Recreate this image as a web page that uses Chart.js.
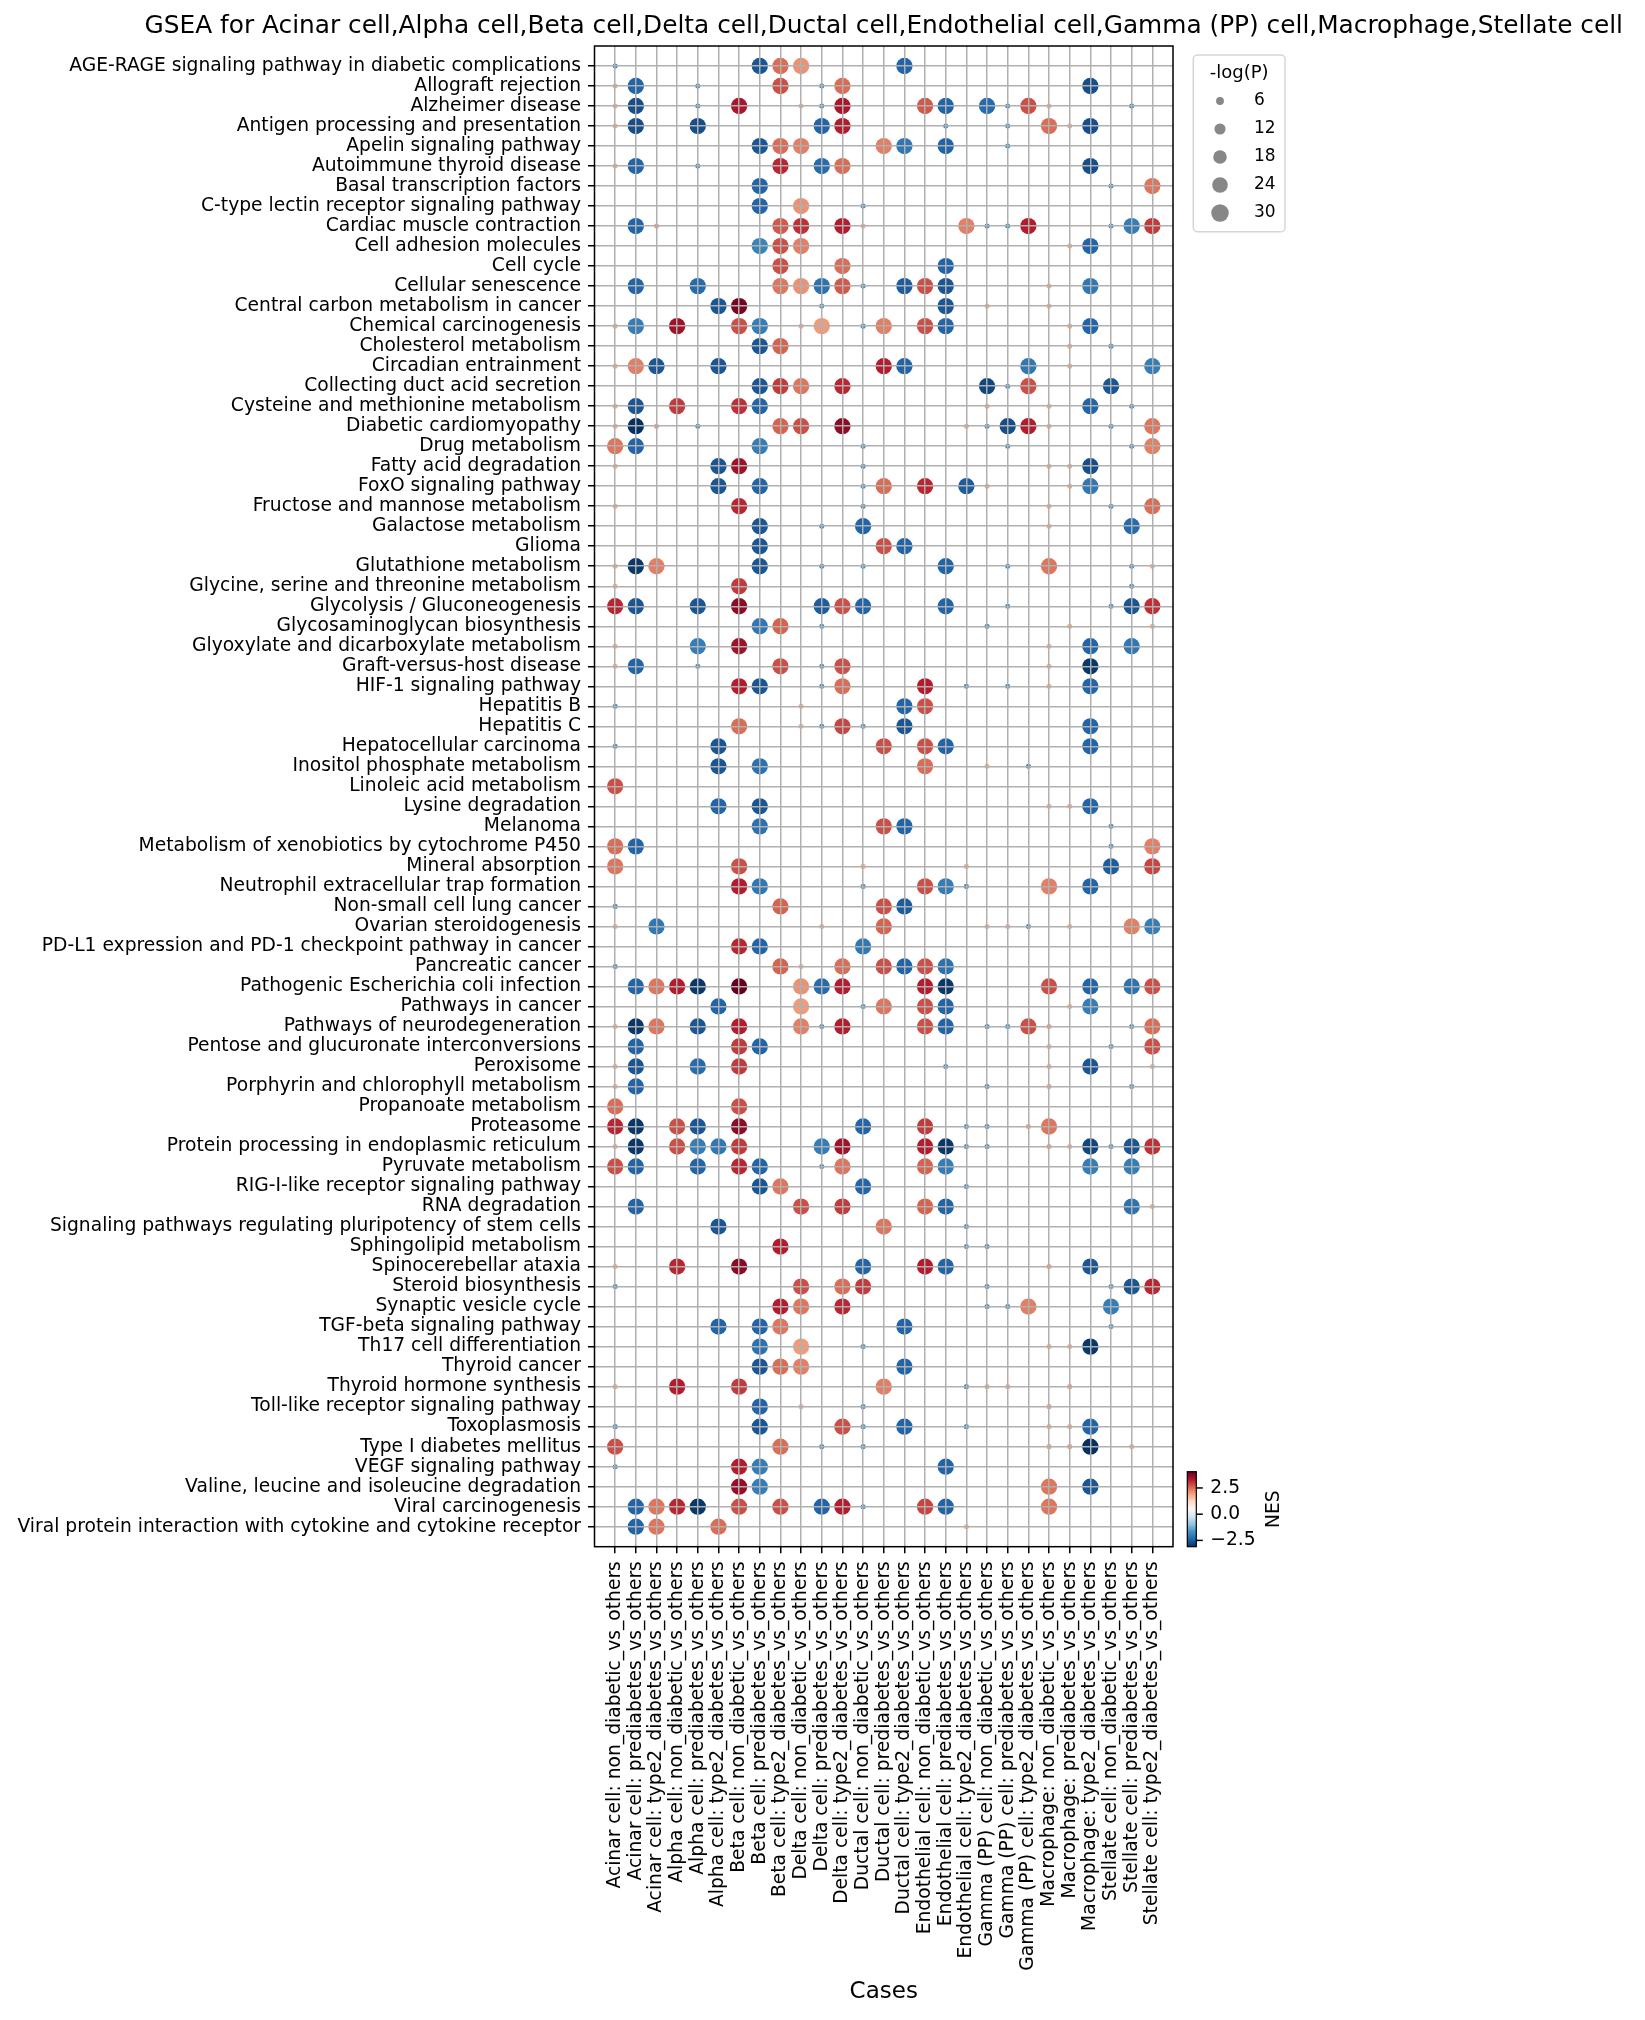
<!DOCTYPE html>
<html>
<head>
<meta charset="utf-8">
<script src="https://cdn.jsdelivr.net/npm/chart.js@4.4.0/dist/chart.umd.min.js"></script>
<style>
  html, body { margin: 0; padding: 0; background: #fff; }
  #wrap { width: 1645px; height: 2020px; position: relative; }
</style>
</head>
<body>
<div id="wrap"><canvas id="gsea"></canvas></div>
<script>
const _ = null;

// x categories
const cases = [
  'Acinar cell: non_diabetic_vs_others', 'Acinar cell: prediabetes_vs_others', 'Acinar cell: type2_diabetes_vs_others',
  'Alpha cell: non_diabetic_vs_others', 'Alpha cell: prediabetes_vs_others', 'Alpha cell: type2_diabetes_vs_others',
  'Beta cell: non_diabetic_vs_others', 'Beta cell: prediabetes_vs_others', 'Beta cell: type2_diabetes_vs_others',
  'Delta cell: non_diabetic_vs_others', 'Delta cell: prediabetes_vs_others', 'Delta cell: type2_diabetes_vs_others',
  'Ductal cell: non_diabetic_vs_others', 'Ductal cell: prediabetes_vs_others', 'Ductal cell: type2_diabetes_vs_others',
  'Endothelial cell: non_diabetic_vs_others', 'Endothelial cell: prediabetes_vs_others', 'Endothelial cell: type2_diabetes_vs_others',
  'Gamma (PP) cell: non_diabetic_vs_others', 'Gamma (PP) cell: prediabetes_vs_others', 'Gamma (PP) cell: type2_diabetes_vs_others',
  'Macrophage: non_diabetic_vs_others', 'Macrophage: prediabetes_vs_others', 'Macrophage: type2_diabetes_vs_others',
  'Stellate cell: non_diabetic_vs_others', 'Stellate cell: prediabetes_vs_others', 'Stellate cell: type2_diabetes_vs_others'
];

// y categories (top to bottom)
const pathways = [
  'AGE-RAGE signaling pathway in diabetic complications', 'Allograft rejection', 'Alzheimer disease',
  'Antigen processing and presentation', 'Apelin signaling pathway', 'Autoimmune thyroid disease',
  'Basal transcription factors', 'C-type lectin receptor signaling pathway', 'Cardiac muscle contraction',
  'Cell adhesion molecules', 'Cell cycle', 'Cellular senescence', 'Central carbon metabolism in cancer',
  'Chemical carcinogenesis', 'Cholesterol metabolism', 'Circadian entrainment', 'Collecting duct acid secretion',
  'Cysteine and methionine metabolism', 'Diabetic cardiomyopathy', 'Drug metabolism', 'Fatty acid degradation',
  'FoxO signaling pathway', 'Fructose and mannose metabolism', 'Galactose metabolism', 'Glioma',
  'Glutathione metabolism', 'Glycine, serine and threonine metabolism', 'Glycolysis / Gluconeogenesis',
  'Glycosaminoglycan biosynthesis', 'Glyoxylate and dicarboxylate metabolism', 'Graft-versus-host disease',
  'HIF-1 signaling pathway', 'Hepatitis B', 'Hepatitis C', 'Hepatocellular carcinoma',
  'Inositol phosphate metabolism', 'Linoleic acid metabolism', 'Lysine degradation', 'Melanoma',
  'Metabolism of xenobiotics by cytochrome P450', 'Mineral absorption', 'Neutrophil extracellular trap formation',
  'Non-small cell lung cancer', 'Ovarian steroidogenesis', 'PD-L1 expression and PD-1 checkpoint pathway in cancer',
  'Pancreatic cancer', 'Pathogenic Escherichia coli infection', 'Pathways in cancer', 'Pathways of neurodegeneration',
  'Pentose and glucuronate interconversions', 'Peroxisome', 'Porphyrin and chlorophyll metabolism',
  'Propanoate metabolism', 'Proteasome', 'Protein processing in endoplasmic reticulum', 'Pyruvate metabolism',
  'RIG-I-like receptor signaling pathway', 'RNA degradation', 'Signaling pathways regulating pluripotency of stem cells',
  'Sphingolipid metabolism', 'Spinocerebellar ataxia', 'Steroid biosynthesis', 'Synaptic vesicle cycle',
  'TGF-beta signaling pathway', 'Th17 cell differentiation', 'Thyroid cancer', 'Thyroid hormone synthesis',
  'Toll-like receptor signaling pathway', 'Toxoplasmosis', 'Type I diabetes mellitus', 'VEGF signaling pathway',
  'Valine, leucine and isoleucine degradation', 'Viral carcinogenesis',
  'Viral protein interaction with cytokine and cytokine receptor'
];

// NES, one row per pathway, one column per case (null = not significant)
const nes = [
  [-1.8,_,_,_,_,_,_,-2.6,2.5,  2.1,_,_,_,_,-2.4,_,_,_,  _,_,_,_,_,_,_,_,_],
  [1.8,-2.4,_,_,-1.8,_,_,_,2.8,  _,-1.8,2.5,_,_,_,_,_,_,  _,_,_,_,_,-2.7,_,_,_],
  [1.8,-2.7,_,_,-1.8,_,3.4,_,_,  1.8,-1.8,3.4,_,_,_,2.7,-2.4,_,  -2.3,-1.8,2.8,1.8,_,_,_,-1.8,_],
  [1.8,-2.7,_,_,-2.7,_,_,_,_,  _,-2.4,3.3,_,_,_,_,-1.8,_,  _,-1.8,_,2.5,1.8,-2.7,_,_,_],
  [_,_,_,_,_,_,_,-2.6,2.5,  2.3,_,_,_,2.3,-2.1,_,-2.4,_,  _,-1.8,_,_,_,_,_,_,_],
  [1.8,-2.4,_,_,-1.8,_,_,_,3.2,  _,-2.3,2.5,_,_,_,_,_,_,  _,_,_,_,_,-2.7,_,_,_],
  [_,_,_,_,_,_,_,-2.4,_,  _,_,_,_,_,_,_,_,_,  _,_,_,_,_,_,-1.8,_,2.4],
  [_,_,_,_,_,_,_,-2.4,_,  2.1,_,_,-1.8,_,_,_,_,_,  _,_,_,_,_,_,_,_,_],
  [_,-2.4,2.0,_,_,_,_,_,2.7,  3.1,_,3.3,1.8,_,_,_,_,2.3,  -1.8,-1.8,3.3,_,_,_,-1.8,-2.0,3.0],
  [_,_,_,_,_,_,_,-1.9,2.8,  2.3,_,_,_,_,_,_,_,_,  _,_,_,_,1.8,-2.4,_,_,_],
  [_,_,_,_,_,_,_,_,2.8,  _,_,2.5,_,_,_,_,-2.4,_,  _,_,_,_,_,_,_,_,_],
  [_,-2.4,_,_,-2.3,_,_,_,2.4,  2.1,-2.2,2.7,-1.8,_,-2.5,2.8,-2.6,_,  _,_,_,1.8,_,-2.1,_,_,_],
  [_,_,_,_,_,-2.6,3.9,_,_,  _,-1.8,_,_,_,_,_,-2.6,_,  1.8,_,_,1.8,_,_,_,_,_],
  [1.8,-2.0,_,3.5,_,_,2.8,-2.0,_,  1.8,2.0,_,-1.8,2.3,_,2.8,-2.4,_,  _,_,_,_,1.8,-2.4,_,_,_],
  [_,_,_,_,_,_,_,-2.6,2.6,  _,_,_,_,_,_,_,_,_,  _,_,_,_,1.8,_,-1.8,_,_],
  [1.8,2.3,-2.6,_,_,-2.6,_,_,_,  _,_,_,_,3.3,-2.4,_,_,_,  _,_,-2.1,_,1.8,_,_,_,-2.0],
  [_,_,_,_,_,_,_,-2.6,3.0,  2.4,_,3.2,_,_,_,_,_,_,  -2.8,-1.8,2.8,_,_,_,-2.6,_,_],
  [1.8,-2.6,_,3.0,_,_,3.1,-2.4,_,  _,_,_,_,_,_,_,_,_,  1.8,_,_,1.8,_,-2.4,_,-1.8,_],
  [1.8,-3.1,2.0,_,-1.8,_,_,_,2.6,  2.8,_,3.7,_,_,_,_,_,1.8,  -1.8,-2.7,3.3,1.8,_,_,-1.8,_,2.4],
  [2.4,-2.4,_,_,_,_,_,-2.0,_,  _,_,_,-1.8,_,_,_,_,_,  _,-1.8,_,_,_,_,_,-1.8,2.3],
  [1.8,_,_,_,_,-2.6,3.5,_,_,  _,_,_,-1.8,_,_,_,_,_,  _,_,_,1.8,1.8,-2.7,_,_,_],
  [_,_,_,_,_,-2.6,_,-2.4,_,  _,_,_,-1.8,2.5,_,3.2,_,-2.5,  1.8,_,_,_,1.8,-2.1,_,_,_],
  [1.8,_,_,_,_,_,3.2,_,_,  _,_,_,-1.8,_,_,_,_,_,  _,_,_,1.8,_,_,-1.8,_,2.5],
  [_,_,_,_,_,_,_,-2.6,_,  _,-1.8,_,-2.4,_,_,_,_,_,  _,_,_,1.8,_,_,_,-2.3,_],
  [_,_,_,_,_,_,_,-2.6,_,  _,_,_,_,2.8,-2.4,_,_,_,  _,_,_,_,_,_,_,_,_],
  [1.8,-3.0,2.3,_,_,_,_,-2.6,_,  _,-1.8,_,-1.8,_,_,_,-2.4,_,  _,-1.8,_,2.4,_,_,_,-1.8,1.8],
  [1.8,_,_,_,_,_,3.0,_,_,  _,_,_,_,_,_,_,_,_,  _,_,_,_,_,_,_,-1.8,_],
  [3.2,-2.6,_,_,-2.6,_,3.7,_,_,  _,-2.5,2.8,-2.4,_,_,_,-2.4,_,  _,-1.8,_,_,_,_,-1.8,-2.6,3.1],
  [_,_,_,_,_,_,_,-2.1,2.6,  _,-1.8,_,_,_,_,_,_,_,  -1.8,_,_,_,1.8,_,_,_,1.8],
  [1.8,_,_,_,-2.0,_,3.5,_,_,  _,_,_,_,_,_,_,_,_,  _,_,_,1.8,_,-2.4,_,-2.1,_],
  [1.8,-2.4,_,_,-1.8,_,_,_,2.8,  _,-1.8,2.8,_,_,_,_,_,_,  _,_,_,1.8,_,-3.0,_,_,_],
  [_,_,_,_,_,_,3.3,-2.6,_,  _,-1.8,2.5,_,_,_,3.3,_,-1.8,  _,-1.8,_,1.8,_,-2.4,_,_,_],
  [-1.8,_,_,_,_,_,_,_,_,  1.8,_,_,_,_,-2.4,2.8,_,_,  _,_,_,_,_,_,_,_,_],
  [_,_,_,_,_,_,2.5,_,_,  1.8,-1.8,2.9,-1.8,_,-2.6,_,_,_,  _,_,_,_,_,-2.4,_,_,_],
  [-1.8,_,_,_,_,-2.6,_,_,_,  _,_,_,_,2.8,_,2.8,-2.4,_,  _,_,_,_,_,-2.4,_,_,_],
  [_,_,_,_,_,-2.6,_,-2.2,_,  _,_,_,_,_,_,2.5,_,_,  1.8,_,-1.8,_,_,_,_,_,_],
  [2.8,_,_,_,_,_,_,_,_,  _,_,_,_,_,_,_,_,_,  _,_,_,_,_,_,_,_,_],
  [_,_,_,_,_,-2.4,_,-2.6,_,  _,_,_,_,_,_,_,_,_,  _,_,_,1.8,1.8,-2.4,_,_,_],
  [_,_,_,_,_,_,_,-2.2,_,  _,_,_,_,2.8,-2.4,_,_,_,  _,_,_,_,_,_,-1.8,_,_],
  [2.5,-2.4,_,_,_,_,_,_,_,  _,_,_,_,_,_,_,_,_,  _,_,_,_,_,_,-1.8,_,2.3],
  [2.4,_,_,_,_,_,2.8,_,_,  _,_,_,1.8,_,_,_,_,1.8,  _,_,_,_,_,_,-2.5,_,2.9],
  [_,_,_,_,_,_,3.3,-2.1,_,  _,_,_,-1.8,_,_,2.8,-2.0,-1.8,  _,_,_,2.3,_,-2.4,_,_,_],
  [-1.8,_,_,_,_,_,_,_,2.6,  _,_,_,_,2.8,-2.5,_,_,_,  _,_,_,_,_,_,_,_,_],
  [1.8,_,-2.1,_,_,_,_,_,_,  _,1.8,_,_,2.6,_,_,_,_,  1.8,1.8,-1.8,_,1.8,_,_,2.3,-2.0],
  [_,_,_,_,_,_,3.2,-2.4,_,  _,_,_,-2.1,_,_,_,_,_,  _,_,_,_,_,_,_,_,_],
  [-1.8,_,_,_,_,_,_,_,2.6,  1.8,_,2.5,_,2.8,-2.4,2.8,-2.2,_,  _,_,_,_,_,_,_,_,_],
  [_,-2.4,2.4,3.3,-3.0,_,4.05,_,_,  2.1,-2.3,3.3,_,_,_,3.3,-3.0,_,  _,_,_,2.8,_,-2.4,_,-2.2,2.8],
  [_,_,_,_,_,-2.4,_,_,_,  2.0,_,_,-1.8,2.4,_,2.8,-2.4,_,  _,_,_,_,1.8,-2.0,_,_,_],
  [1.8,-3.0,2.4,_,-2.6,_,3.3,_,_,  2.3,-1.8,3.3,_,_,_,2.8,-2.4,_,  -1.8,-1.8,2.8,2.0,_,_,_,-1.8,2.5],
  [_,-2.4,_,_,_,_,3.0,-2.4,_,  _,_,_,_,_,_,_,_,_,  _,_,_,1.8,_,_,-1.8,_,2.8],
  [1.8,-2.6,_,_,-2.3,_,3.0,_,_,  _,_,_,_,_,_,_,-1.8,_,  _,_,_,1.8,_,-2.6,_,_,1.8],
  [1.8,-2.4,_,_,_,_,_,_,_,  _,_,_,_,_,_,_,_,_,  -1.8,_,_,2.0,_,_,_,-1.8,_],
  [2.5,_,_,_,_,_,2.8,_,_,  _,_,_,_,_,_,_,_,_,  _,_,_,_,_,_,_,_,_],
  [3.2,-3.0,_,2.8,-2.6,_,3.7,_,_,  _,_,_,-2.4,_,_,3.0,_,-1.8,  -1.8,_,2.0,2.4,_,_,_,_,_],
  [1.8,-3.0,_,2.8,-2.0,-2.1,3.0,_,_,  _,-2.0,3.5,_,_,_,3.3,-3.0,-1.8,  -1.8,_,_,2.0,1.8,-2.8,-1.8,-2.6,3.1],
  [2.8,-2.4,_,_,-2.4,_,3.2,-2.4,_,  _,-1.8,2.4,_,_,_,2.6,-2.0,_,  _,_,_,_,_,-2.0,_,-2.0,_],
  [_,_,_,_,_,_,_,-2.6,2.4,  _,_,_,-2.4,_,_,_,_,-1.8,  _,_,_,_,_,_,_,_,_],
  [_,-2.4,_,_,_,_,_,_,_,  2.8,_,3.0,_,_,_,2.6,-2.4,_,  _,_,_,_,_,_,_,-2.2,1.8],
  [_,_,_,_,_,-2.6,_,_,_,  _,_,_,_,2.4,_,_,_,-1.8,  _,_,_,_,_,_,_,_,_],
  [_,_,_,_,_,_,_,_,3.3,  _,_,_,_,_,_,_,_,-1.8,  -1.8,_,_,_,_,_,_,_,_],
  [1.8,_,_,3.2,_,_,3.7,_,_,  _,_,_,-2.4,_,_,3.3,-2.4,_,  _,_,_,2.0,_,-2.6,_,_,_],
  [-1.8,_,_,_,_,_,_,_,_,  2.8,_,2.5,3.0,_,_,_,_,_,  -1.8,_,_,_,_,_,-1.8,-2.6,3.2],
  [_,_,_,_,_,_,_,_,3.3,  2.4,_,3.2,_,_,_,_,_,_,  -1.8,-1.8,2.3,_,_,_,-2.0,_,_],
  [_,_,_,_,_,-2.4,_,-2.4,2.4,  _,_,_,_,_,-2.4,_,_,_,  _,_,_,_,_,_,-1.8,_,_],
  [_,_,_,_,_,_,_,-2.2,_,  2.0,_,_,-1.8,_,_,_,_,_,  _,_,_,1.8,1.8,-3.0,_,_,_],
  [_,_,_,_,_,_,_,-2.6,2.5,  2.3,_,_,_,_,-2.4,_,_,_,  _,_,_,_,_,_,_,_,_],
  [1.8,_,_,3.3,_,_,3.0,_,_,  _,_,_,_,2.3,_,_,_,-1.8,  1.8,1.8,_,_,2.0,_,_,_,_],
  [_,_,_,_,_,_,_,-2.4,_,  1.8,_,_,-1.8,_,_,_,_,_,  _,_,_,2.0,_,_,_,_,_],
  [-1.8,_,_,_,_,_,_,-2.6,_,  _,_,2.8,-1.8,_,-2.4,_,_,-1.8,  _,_,_,1.8,1.8,-2.4,_,_,_],
  [2.8,_,_,_,_,_,_,_,2.5,  _,-1.8,_,-1.8,_,_,_,_,_,  _,_,_,2.0,2.0,-3.1,_,1.8,_],
  [-1.8,_,_,_,_,_,3.3,-2.0,_,  _,_,_,_,_,_,_,-2.4,_,  _,_,_,_,_,_,_,_,_],
  [_,_,_,_,_,_,3.6,-2.0,_,  _,_,_,_,_,_,_,_,_,  _,_,_,2.4,_,-2.6,_,_,_],
  [_,-2.4,2.4,3.2,-3.0,_,2.8,_,2.8,  _,-2.4,3.3,-1.8,_,_,2.9,-2.4,_,  _,_,_,2.4,_,_,_,_,_],
  [_,-2.4,2.4,_,_,2.5,_,_,_,  _,_,_,_,_,_,_,_,1.8,  _,_,_,_,_,_,_,_,_]
];

// -log(P), same layout as nes
const negLogP = [
  [2.5,_,_,_,_,_,_,26,26,  26,_,_,_,_,26,_,_,_,  _,_,_,_,_,_,_,_,_],
  [2.5,26,_,_,2.5,_,_,_,26,  _,2.5,26,_,_,_,_,_,_,  _,_,_,_,_,26,_,_,_],
  [2.5,26,_,_,2.5,_,26,_,_,  2.5,2.5,26,_,_,_,26,26,_,  26,2.5,26,2.5,_,_,_,2.5,_],
  [2.5,26,_,_,26,_,_,_,_,  _,26,26,_,_,_,_,2.5,_,  _,2.5,_,26,2.5,26,_,_,_],
  [_,_,_,_,_,_,_,26,26,  26,_,_,_,26,26,_,26,_,  _,2.5,_,_,_,_,_,_,_],
  [2.5,26,_,_,2.5,_,_,_,26,  _,26,26,_,_,_,_,_,_,  _,_,_,_,_,26,_,_,_],
  [_,_,_,_,_,_,_,26,_,  _,_,_,_,_,_,_,_,_,  _,_,_,_,_,_,2.5,_,26],
  [_,_,_,_,_,_,_,26,_,  26,_,_,2.5,_,_,_,_,_,  _,_,_,_,_,_,_,_,_],
  [_,26,2.5,_,_,_,_,_,26,  26,_,26,2.5,_,_,_,_,26,  2.5,2.5,26,_,_,_,2.5,26,26],
  [_,_,_,_,_,_,_,26,26,  26,_,_,_,_,_,_,_,_,  _,_,_,_,2.5,26,_,_,_],
  [_,_,_,_,_,_,_,_,26,  _,_,26,_,_,_,_,26,_,  _,_,_,_,_,_,_,_,_],
  [_,26,_,_,26,_,_,_,26,  26,26,26,2.5,_,26,26,26,_,  _,_,_,2.5,_,26,_,_,_],
  [_,_,_,_,_,26,26,_,_,  _,2.5,_,_,_,_,_,26,_,  2.5,_,_,2.5,_,_,_,_,_],
  [2.5,26,_,26,_,_,26,26,_,  2.5,26,_,2.5,26,_,26,26,_,  _,_,_,_,2.5,26,_,_,_],
  [_,_,_,_,_,_,_,26,26,  _,_,_,_,_,_,_,_,_,  _,_,_,_,2.5,_,2.5,_,_],
  [2.5,26,26,_,_,26,_,_,_,  _,_,_,_,26,26,_,_,_,  _,_,26,_,2.5,_,_,_,26],
  [_,_,_,_,_,_,_,26,26,  26,_,26,_,_,_,_,_,_,  26,2.5,26,_,_,_,26,_,_],
  [2.5,26,_,26,_,_,26,26,_,  _,_,_,_,_,_,_,_,_,  2.5,_,_,2.5,_,26,_,2.5,_],
  [2.5,26,2.5,_,2.5,_,_,_,26,  26,_,26,_,_,_,_,_,2.5,  2.5,26,26,2.5,_,_,2.5,_,26],
  [26,26,_,_,_,_,_,26,_,  _,_,_,2.5,_,_,_,_,_,  _,2.5,_,_,_,_,_,2.5,26],
  [2.5,_,_,_,_,26,26,_,_,  _,_,_,2.5,_,_,_,_,_,  _,_,_,2.5,2.5,26,_,_,_],
  [_,_,_,_,_,26,_,26,_,  _,_,_,2.5,26,_,26,_,26,  2.5,_,_,_,2.5,26,_,_,_],
  [2.5,_,_,_,_,_,26,_,_,  _,_,_,2.5,_,_,_,_,_,  _,_,_,2.5,_,_,2.5,_,26],
  [_,_,_,_,_,_,_,26,_,  _,2.5,_,26,_,_,_,_,_,  _,_,_,2.5,_,_,_,26,_],
  [_,_,_,_,_,_,_,26,_,  _,_,_,_,26,26,_,_,_,  _,_,_,_,_,_,_,_,_],
  [2.5,26,26,_,_,_,_,26,_,  _,2.5,_,2.5,_,_,_,26,_,  _,2.5,_,26,_,_,_,2.5,2.5],
  [2.5,_,_,_,_,_,26,_,_,  _,_,_,_,_,_,_,_,_,  _,_,_,_,_,_,_,2.5,_],
  [26,26,_,_,26,_,26,_,_,  _,26,26,26,_,_,_,26,_,  _,2.5,_,_,_,_,2.5,26,26],
  [_,_,_,_,_,_,_,26,26,  _,2.5,_,_,_,_,_,_,_,  2.5,_,_,_,2.5,_,_,_,2.5],
  [2.5,_,_,_,26,_,26,_,_,  _,_,_,_,_,_,_,_,_,  _,_,_,2.5,_,26,_,26,_],
  [2.5,26,_,_,2.5,_,_,_,26,  _,2.5,26,_,_,_,_,_,_,  _,_,_,2.5,_,26,_,_,_],
  [_,_,_,_,_,_,26,26,_,  _,2.5,26,_,_,_,26,_,2.5,  _,2.5,_,2.5,_,26,_,_,_],
  [2.5,_,_,_,_,_,_,_,_,  2.5,_,_,_,_,26,26,_,_,  _,_,_,_,_,_,_,_,_],
  [_,_,_,_,_,_,26,_,_,  2.5,2.5,26,2.5,_,26,_,_,_,  _,_,_,_,_,26,_,_,_],
  [2.5,_,_,_,_,26,_,_,_,  _,_,_,_,26,_,26,26,_,  _,_,_,_,_,26,_,_,_],
  [_,_,_,_,_,26,_,26,_,  _,_,_,_,_,_,26,_,_,  2.5,_,2.5,_,_,_,_,_,_],
  [26,_,_,_,_,_,_,_,_,  _,_,_,_,_,_,_,_,_,  _,_,_,_,_,_,_,_,_],
  [_,_,_,_,_,26,_,26,_,  _,_,_,_,_,_,_,_,_,  _,_,_,2.5,2.5,26,_,_,_],
  [_,_,_,_,_,_,_,26,_,  _,_,_,_,26,26,_,_,_,  _,_,_,_,_,_,2.5,_,_],
  [26,26,_,_,_,_,_,_,_,  _,_,_,_,_,_,_,_,_,  _,_,_,_,_,_,2.5,_,26],
  [26,_,_,_,_,_,26,_,_,  _,_,_,2.5,_,_,_,_,2.5,  _,_,_,_,_,_,26,_,26],
  [_,_,_,_,_,_,26,26,_,  _,_,_,2.5,_,_,26,26,2.5,  _,_,_,26,_,26,_,_,_],
  [2.5,_,_,_,_,_,_,_,26,  _,_,_,_,26,26,_,_,_,  _,_,_,_,_,_,_,_,_],
  [2.5,_,26,_,_,_,_,_,_,  _,2.5,_,_,26,_,_,_,_,  2.5,2.5,2.5,_,2.5,_,_,26,26],
  [_,_,_,_,_,_,26,26,_,  _,_,_,26,_,_,_,_,_,  _,_,_,_,_,_,_,_,_],
  [2.5,_,_,_,_,_,_,_,26,  2.5,_,26,_,26,26,26,26,_,  _,_,_,_,_,_,_,_,_],
  [_,26,26,26,26,_,26,_,_,  26,26,26,_,_,_,26,26,_,  _,_,_,26,_,26,_,26,26],
  [_,_,_,_,_,26,_,_,_,  26,_,_,2.5,26,_,26,26,_,  _,_,_,_,2.5,26,_,_,_],
  [2.5,26,26,_,26,_,26,_,_,  26,2.5,26,_,_,_,26,26,_,  2.5,2.5,26,2.5,_,_,_,2.5,26],
  [_,26,_,_,_,_,26,26,_,  _,_,_,_,_,_,_,_,_,  _,_,_,2.5,_,_,2.5,_,26],
  [2.5,26,_,_,26,_,26,_,_,  _,_,_,_,_,_,_,2.5,_,  _,_,_,2.5,_,26,_,_,2.5],
  [2.5,26,_,_,_,_,_,_,_,  _,_,_,_,_,_,_,_,_,  2.5,_,_,2.5,_,_,_,2.5,_],
  [26,_,_,_,_,_,26,_,_,  _,_,_,_,_,_,_,_,_,  _,_,_,_,_,_,_,_,_],
  [26,26,_,26,26,_,26,_,_,  _,_,_,26,_,_,26,_,2.5,  2.5,_,2.5,26,_,_,_,_,_],
  [2.5,26,_,26,26,26,26,_,_,  _,26,26,_,_,_,26,26,2.5,  2.5,_,_,2.5,2.5,26,2.5,26,26],
  [26,26,_,_,26,_,26,26,_,  _,2.5,26,_,_,_,26,26,_,  _,_,_,_,_,26,_,26,_],
  [_,_,_,_,_,_,_,26,26,  _,_,_,26,_,_,_,_,2.5,  _,_,_,_,_,_,_,_,_],
  [_,26,_,_,_,_,_,_,_,  26,_,26,_,_,_,26,26,_,  _,_,_,_,_,_,_,26,2.5],
  [_,_,_,_,_,26,_,_,_,  _,_,_,_,26,_,_,_,2.5,  _,_,_,_,_,_,_,_,_],
  [_,_,_,_,_,_,_,_,26,  _,_,_,_,_,_,_,_,2.5,  2.5,_,_,_,_,_,_,_,_],
  [2.5,_,_,26,_,_,26,_,_,  _,_,_,26,_,_,26,26,_,  _,_,_,2.5,_,26,_,_,_],
  [2.5,_,_,_,_,_,_,_,_,  26,_,26,26,_,_,_,_,_,  2.5,_,_,_,_,_,2.5,26,26],
  [_,_,_,_,_,_,_,_,26,  26,_,26,_,_,_,_,_,_,  2.5,2.5,26,_,_,_,26,_,_],
  [_,_,_,_,_,26,_,26,26,  _,_,_,_,_,26,_,_,_,  _,_,_,_,_,_,2.5,_,_],
  [_,_,_,_,_,_,_,26,_,  26,_,_,2.5,_,_,_,_,_,  _,_,_,2.5,2.5,26,_,_,_],
  [_,_,_,_,_,_,_,26,26,  26,_,_,_,_,26,_,_,_,  _,_,_,_,_,_,_,_,_],
  [2.5,_,_,26,_,_,26,_,_,  _,_,_,_,26,_,_,_,2.5,  2.5,2.5,_,_,2.5,_,_,_,_],
  [_,_,_,_,_,_,_,26,_,  2.5,_,_,2.5,_,_,_,_,_,  _,_,_,2.5,_,_,_,_,_],
  [2.5,_,_,_,_,_,_,26,_,  _,_,26,2.5,_,26,_,_,2.5,  _,_,_,2.5,2.5,26,_,_,_],
  [26,_,_,_,_,_,_,_,26,  _,2.5,_,2.5,_,_,_,_,_,  _,_,_,2.5,2.5,26,_,2.5,_],
  [2.5,_,_,_,_,_,26,26,_,  _,_,_,_,_,_,_,26,_,  _,_,_,_,_,_,_,_,_],
  [_,_,_,_,_,_,26,26,_,  _,_,_,_,_,_,_,_,_,  _,_,_,26,_,26,_,_,_],
  [_,26,26,26,26,_,26,_,26,  _,26,26,2.5,_,_,26,26,_,  _,_,_,26,_,_,_,_,_],
  [_,26,26,_,_,26,_,_,_,  _,_,_,_,_,_,_,_,2.5,  _,_,_,_,_,_,_,_,_]
];

const sizeLegend = [6, 12, 18, 24, 30];
const nesTicks = [2.5, 0, -2.5];

// RdBu_r
const rdbu = ['#053061', '#2166ac', '#4393c3', '#92c5de', '#d1e5f0', '#f7f7f7',
              '#fddbc7', '#f4a582', '#d6604d', '#b2182b', '#67001f'];

const allNes = nes.flat().filter(v => v !== null);
const vmin = Math.min(...allNes);
const vmax = Math.max(...allNes);

function hex2rgb(h) {
    return [parseInt(h.slice(1, 3), 16), parseInt(h.slice(3, 5), 16), parseInt(h.slice(5, 7), 16)];
}

function cmap(v) {
    let f = (v - vmin) / (vmax - vmin);
    f = Math.max(0, Math.min(1, f)) * 10;
    const i = Math.min(9, Math.floor(f));
    const t = f - i;
    const a = hex2rgb(rdbu[i]), b = hex2rgb(rdbu[i + 1]);
    const c = a.map((x, k) => Math.round(x + (b[k] - x) * t));
    return `rgb(${c[0]},${c[1]},${c[2]})`;
}

const sizeToRadius = p => 1.6 * Math.sqrt(p);

const points = [];
nes.forEach((row, y) => {
    row.forEach((v, x) => {
        if (v === null) return;
        const p = negLogP[y][x] ?? 2.5;
        points.push({ x: x, y: y, r: sizeToRadius(p), nes: v });
    });
});

const FONT = 'DejaVu Sans';
Chart.defaults.font.family = FONT;
Chart.defaults.color = '#000';

// plot box in canvas pixels
const BOX = { left: 594.5, right: 1173, top: 46, bottom: 1546.7 };

const extras = {
    id: 'extras',
    afterDraw(chart) {
        const ctx = chart.ctx;
        const a = chart.chartArea;
        ctx.save();

        // frame
        ctx.strokeStyle = '#000';
        ctx.lineWidth = 1.5;
        ctx.strokeRect(a.left, a.top, a.right - a.left, a.bottom - a.top);

        // title
        ctx.fillStyle = '#000';
        ctx.font = `24.8px "${FONT}"`;
        ctx.textAlign = 'center';
        ctx.textBaseline = 'alphabetic';
        ctx.fillText('GSEA for Acinar cell,Alpha cell,Beta cell,Delta cell,Ductal cell,Endothelial cell,Gamma (PP) cell,Macrophage,Stellate cell',
            (a.left + a.right) / 2, 33);

        // size legend
        const lg = { x: 1193.3, y: 55, w: 91.7, h: 176.7 };
        ctx.beginPath();
        ctx.roundRect(lg.x, lg.y, lg.w, lg.h, 4);
        ctx.fillStyle = 'rgba(255,255,255,0.8)';
        ctx.fill();
        ctx.strokeStyle = '#d6d6d6';
        ctx.lineWidth = 1.5;
        ctx.stroke();
        ctx.fillStyle = '#000';
        ctx.font = `18px "${FONT}"`;
        ctx.textAlign = 'center';
        ctx.textBaseline = 'middle';
        ctx.fillText('-log(P)', lg.x + lg.w / 2, 73);
        ctx.font = `17px "${FONT}"`;
        sizeLegend.forEach((v, i) => {
            const yy = 101 + 28 * i;
            ctx.beginPath();
            ctx.arc(1220, yy, sizeToRadius(v), 0, Math.PI * 2);
            ctx.fillStyle = '#878787';
            ctx.fill();
            ctx.fillStyle = '#000';
            ctx.textAlign = 'left';
            ctx.fillText(String(v), 1254, yy);
        });

        // colorbar
        const cb = { left: 1187.3, right: 1196.3, top: 1471.7, bottom: a.bottom };
        const grad = ctx.createLinearGradient(0, cb.bottom, 0, cb.top);
        rdbu.forEach((c, i) => grad.addColorStop(i / 10, c));
        ctx.fillStyle = grad;
        ctx.fillRect(cb.left, cb.top, cb.right - cb.left, cb.bottom - cb.top);
        ctx.strokeStyle = '#000';
        ctx.lineWidth = 1.2;
        ctx.strokeRect(cb.left, cb.top, cb.right - cb.left, cb.bottom - cb.top);
        ctx.font = `18.7px "${FONT}"`;
        ctx.fillStyle = '#000';
        ctx.textAlign = 'left';
        ctx.textBaseline = 'middle';
        nesTicks.forEach(v => {
            const yy = cb.bottom - (v - vmin) / (vmax - vmin) * (cb.bottom - cb.top);
            ctx.beginPath();
            ctx.moveTo(cb.right, yy);
            ctx.lineTo(cb.right + 6.5, yy);
            ctx.lineWidth = 1.5;
            ctx.stroke();
            ctx.fillText(v.toFixed(1).replace('-', '\u2212'), cb.right + 14, yy);
        });
        ctx.save();
        ctx.translate(1274, (cb.top + cb.bottom) / 2);
        ctx.rotate(-Math.PI / 2);
        ctx.textAlign = 'center';
        ctx.fillText('NES', 0, 0);
        ctx.restore();

        ctx.restore();
    }
};

new Chart(document.getElementById('gsea'), {
    type: 'bubble',
    data: {
        datasets: [{
            data: points,
            backgroundColor: ctx => cmap(ctx.raw.nes),
            borderWidth: 0
        }]
    },
    options: {
        responsive: true,
        maintainAspectRatio: false,
        animation: false,
        events: [],
        layout: { padding: { left: 0, top: BOX.top, right: 1645 - BOX.right, bottom: 0 } },
        plugins: { legend: { display: false }, tooltip: { enabled: false } },
        scales: {
            x: {
                type: 'linear',
                min: -1,
                max: cases.length,
                afterBuildTicks: axis => { axis.ticks = cases.map((c, i) => ({ value: i })); },
                afterFit: axis => { axis.height = 2020 - BOX.bottom; },
                ticks: {
                    callback: v => cases[v],
                    autoSkip: false,
                    minRotation: 90,
                    maxRotation: 90,
                    padding: 8,
                    font: { size: 18.7 }
                },
                grid: { z: 1, color: '#b0b0b0', lineWidth: 1.5, tickColor: '#000', tickWidth: 1.5, tickLength: 6.5 },
                border: { display: false },
                title: { display: true, text: 'Cases', font: { size: 23 }, padding: { top: 0, bottom: 14 } }
            },
            y: {
                type: 'linear',
                min: -1,
                max: pathways.length,
                reverse: true,
                afterBuildTicks: axis => { axis.ticks = pathways.map((p, i) => ({ value: i })); },
                afterFit: axis => { axis.width = BOX.left; },
                ticks: {
                    callback: v => pathways[v],
                    autoSkip: false,
                    padding: 7,
                    font: { size: 18.7 }
                },
                grid: { z: 1, color: '#b0b0b0', lineWidth: 1.5, tickColor: '#000', tickWidth: 1.5, tickLength: 6.5 },
                border: { display: false }
            }
        }
    },
    plugins: [extras]
});
</script>
</body>
</html>
